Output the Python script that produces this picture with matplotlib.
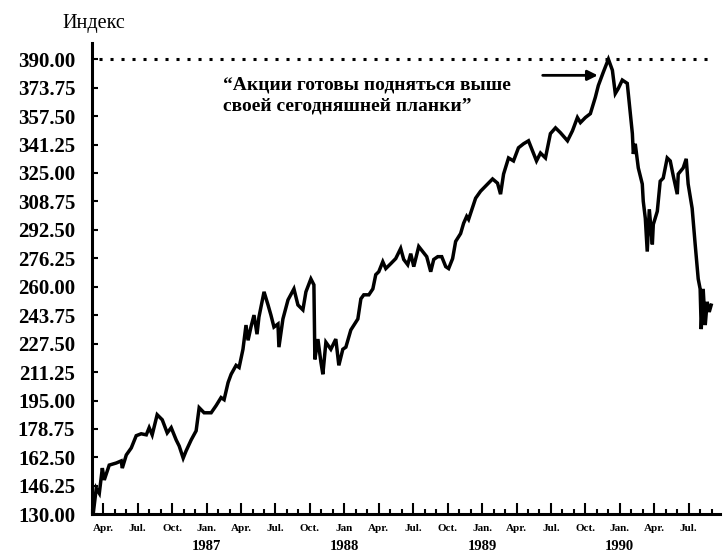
import matplotlib.pyplot as plt
import numpy as np

plt.rcParams['font.family'] = ['Liberation Serif', 'DejaVu Serif']

# время в долях года и значения индекса
t = [1986.177, 1986.199, 1986.221, 1986.243, 1986.257, 1986.293, 1986.344, 1986.380,
     1986.388, 1986.417, 1986.453, 1986.489, 1986.525, 1986.562, 1986.583, 1986.605,
     1986.641, 1986.678, 1986.714, 1986.743, 1986.779, 1986.801, 1986.830, 1986.851,
     1986.888, 1986.924, 1986.946, 1986.982, 1987.033, 1987.069, 1987.105, 1987.127,
     1987.156, 1987.178, 1987.214, 1987.236, 1987.264, 1987.286, 1987.301, 1987.322,
     1987.344, 1987.366, 1987.380, 1987.417, 1987.446, 1987.467, 1987.489, 1987.518,
     1987.525, 1987.554, 1987.591, 1987.634, 1987.663, 1987.699, 1987.721, 1987.757,
     1987.779, 1987.786, 1987.808, 1987.830, 1987.844, 1987.866, 1987.902, 1987.938,
     1987.960, 1987.989, 1988.011, 1988.047, 1988.098, 1988.120, 1988.141, 1988.178,
     1988.207, 1988.228, 1988.250, 1988.279, 1988.301, 1988.337, 1988.373, 1988.409,
     1988.431, 1988.460, 1988.482, 1988.504, 1988.540, 1988.569, 1988.598, 1988.627,
     1988.649, 1988.678, 1988.707, 1988.736, 1988.757, 1988.786, 1988.808, 1988.844,
     1988.866, 1988.888, 1988.902, 1988.953, 1988.989, 1989.040, 1989.076, 1989.112,
     1989.134, 1989.156, 1989.192, 1989.228, 1989.264, 1989.301, 1989.337, 1989.366,
     1989.395, 1989.424, 1989.460, 1989.496, 1989.533, 1989.569, 1989.620, 1989.656,
     1989.692, 1989.714, 1989.750, 1989.786, 1989.822, 1989.844, 1989.880, 1989.917,
     1989.946, 1989.967, 1989.989, 1990.018, 1990.054, 1990.076, 1990.091, 1990.098,
     1990.112, 1990.134, 1990.163, 1990.170, 1990.185, 1990.199, 1990.214, 1990.236,
     1990.243, 1990.272, 1990.293, 1990.315, 1990.344, 1990.366, 1990.388, 1990.417,
     1990.424, 1990.460, 1990.482, 1990.496, 1990.525, 1990.547, 1990.569, 1990.583,
     1990.591, 1990.605, 1990.620, 1990.634, 1990.649, 1990.663]
index = [130.5, 144.9, 142.0, 156.4, 149.6, 158.1, 159.3, 160.5,
         156.4, 163.9, 167.9, 174.9, 176.0, 175.4, 179.5, 175.4,
         186.9, 184.0, 176.5, 179.5, 172.5, 169.0, 162.1, 166.2,
         172.5, 177.7, 190.9, 188.0, 188.0, 192.1, 196.7, 195.5,
         205.3, 210.0, 215.1, 213.9, 224.3, 238.1, 229.4, 237.0,
         243.8, 232.9, 242.7, 257.1, 249.6, 243.8, 237.0, 238.7,
         225.5, 241.6, 252.5, 258.8, 249.6, 246.8, 257.1, 264.5,
         261.1, 218.5, 230.1, 216.8, 210.0, 228.3, 224.3, 230.1,
         215.1, 224.3, 225.5, 235.3, 241.6, 253.1, 255.4, 255.4,
         258.8, 266.9, 268.6, 274.3, 270.4, 273.2, 276.1, 281.9,
         275.6, 272.6, 278.9, 271.5, 283.0, 280.1, 277.2, 268.6,
         275.6, 277.2, 277.2, 271.5, 270.4, 276.1, 285.9, 290.4,
         296.3, 300.2, 298.5, 310.6, 314.6, 318.7, 321.6, 319.2,
         312.9, 324.4, 333.6, 331.9, 339.4, 341.7, 343.4, 337.7,
         331.9, 336.4, 333.6, 347.5, 350.8, 348.0, 343.4, 349.1,
         356.7, 353.8, 356.7, 358.9, 368.2, 375.0, 382.6, 390.0,
         383.7, 370.4, 373.3, 378.1, 376.2, 358.9, 347.5, 335.9,
         341.7, 327.9, 318.7, 308.9, 299.1, 280.1, 304.3, 284.2,
         295.6, 303.1, 320.3, 322.1, 333.6, 331.9, 323.3, 312.9,
         324.4, 327.9, 333.1, 318.7, 304.8, 284.2, 264.5, 258.8,
         235.8, 258.8, 238.1, 251.4, 245.6, 249.5]

yticks = np.arange(130, 390.01, 16.25)
quarters = np.arange(1986.25, 1990.51, 0.25)
quarter_labels = ['Apr.', 'Jul.', 'Oct.', 'Jan.', 'Apr.', 'Jul.', 'Oct.', 'Jan', 'Apr.',
                  'Jul.', 'Oct.', 'Jan.', 'Apr.', 'Jul.', 'Oct.', 'Jan.', 'Apr.', 'Jul.']
years = [1987, 1988, 1989, 1990]
top_level = 390.0

fig = plt.figure(figsize=(7.23, 5.53), dpi=100)
ax = fig.add_axes([0.127, 0.07, 0.869, 0.852])

ax.plot(t, index, color='black', lw=2.5, solid_joinstyle='miter')
ax.axhline(top_level, xmin=0.012, xmax=0.99, color='black', lw=2.2,
           linestyle=(0, (1, 2.6)))

ax.set_xlim(1986.177, 1990.728)
ax.set_ylim(130, 399.2)

for s in ['top', 'right']:
    ax.spines[s].set_visible(False)
ax.spines['left'].set_linewidth(2.2)
ax.spines['bottom'].set_linewidth(2.2)

ax.set_yticks(yticks)
ax.set_yticklabels(['%.2f' % v for v in yticks], fontsize=15, fontweight='bold')
ax.tick_params(axis='y', direction='in', length=4, width=1.5, pad=12)

ax.set_xticks(quarters)
ax.set_xticklabels(quarter_labels, fontsize=8, fontweight='bold')
ax.set_xticks(np.arange(1986 + 2 / 12, 1990.75, 1 / 12), minor=True)
ax.tick_params(axis='x', which='major', direction='in', length=8, width=1.5, pad=7)
ax.tick_params(axis='x', which='minor', direction='in', length=3.5, width=1.5)

for y in years:
    ax.text(y, -0.068, str(y), transform=ax.get_xaxis_transform(),
            ha='center', va='center', fontsize=10.5, fontweight='bold')

fig.text(0.086, 0.958, 'Индекс', fontsize=14.5, ha='left', va='center')

ax.text(1987.12, 380.3, '“Акции готовы подняться выше\nсвоей сегодняшней планки”',
        fontsize=14, fontweight='bold', ha='left', va='top', linespacing=1.35)
ax.annotate('', xy=(1989.84, 380.8), xytext=(1989.44, 380.8),
            arrowprops=dict(arrowstyle='-|>', color='black', lw=2,
                            mutation_scale=15, shrinkA=0, shrinkB=0))

plt.savefig('out.png', dpi=100)
